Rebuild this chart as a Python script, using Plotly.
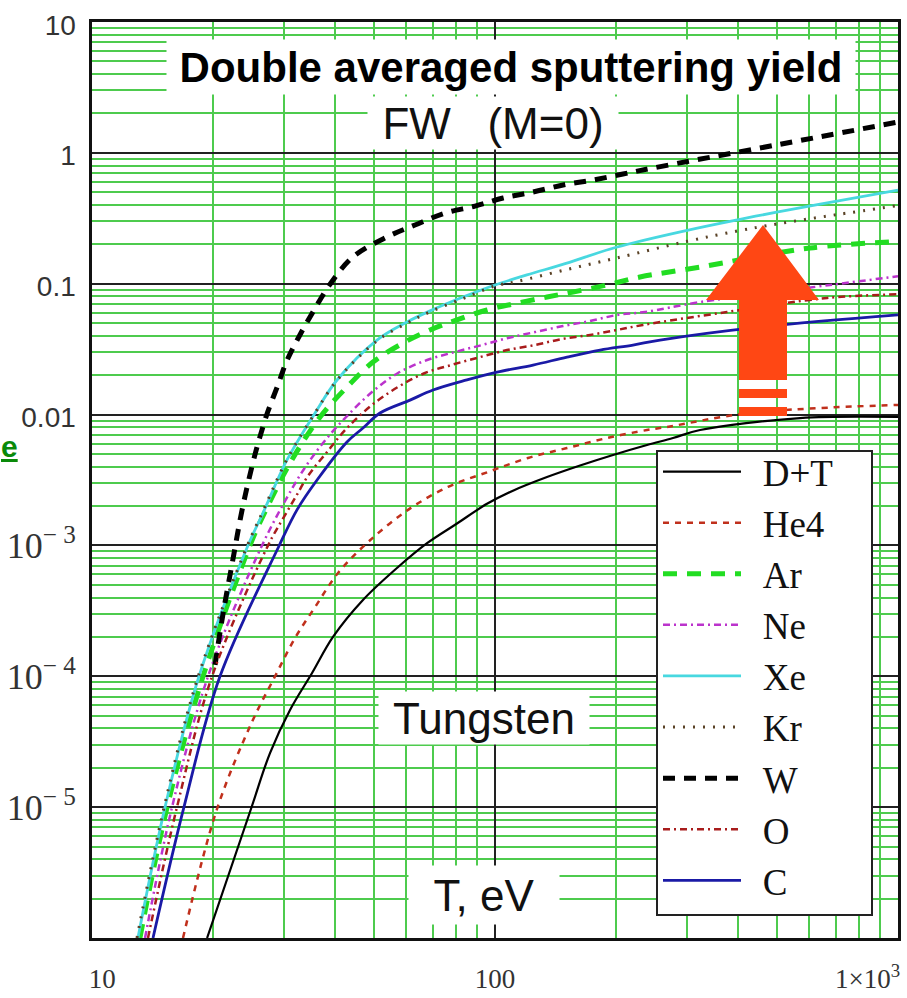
import plotly.graph_objects as go

# ---------------- data ----------------
T_DT = [19.3, 24.8, 27.65, 31.0, 35.16, 39.63, 47.03, 57.12, 67.83, 80.48, 95.53, 110.8, 134.6, 162.6, 196.3,
        238.3, 276.5, 322.7, 571.2, 1000]
Y_DT = [1.0e-6, 9.68e-6, 2.59e-5, 5.53e-5, 1.06e-4, 2.0e-4, 3.83e-4, 6.72e-4, 1.04e-3, 1.47e-3, 2.08e-3, 2.62e-3,
        3.33e-3, 4.08e-3, 4.91e-3, 5.85e-3, 6.62e-3, 7.62e-3, 9.41e-3, 9.6e-3]

T_HE4 = [16.82, 20.43, 24.94, 28.46, 31.9, 35.77, 40.78, 48.4, 60.84, 76.45, 96.07, 120.7, 150.9, 189.7, 238.3,
         267.2, 429.4, 1000]
Y_HE4 = [1.0e-6, 9.7e-6, 4.47e-5, 1.0e-4, 1.96e-4, 3.38e-4, 6.15e-4, 1.06e-3, 1.87e-3, 2.80e-3, 3.64e-3, 4.66e-3,
         5.55e-3, 6.62e-3, 7.62e-3, 8.04e-3, 1.028e-2, 1.185e-2]

T_AR = [13.15, 15.36, 18.86, 24.66, 26.57, 31.0, 36.81, 42.93, 49.8, 59.12, 69.0, 80.48, 95.53, 113.4, 134.6,
        156.2, 189.7, 229.0, 322.7, 604.8, 1000]
Y_AR = [1.0e-6, 1.0e-5, 1.0e-4, 1.0e-3, 1.68e-3, 4.26e-3, 9.58e-3, 1.624e-2, 2.52e-2, 3.52e-2, 4.43e-2, 5.30e-2,
        6.30e-2, 7.1e-2, 7.91e-2, 8.64e-2, 9.78e-2, 0.1125, 0.134, 0.1875, 0.210]

T_NE = [13.54, 15.80, 19.41, 26.42, 31.54, 34.36, 38.31, 43.17, 49.52, 57.45, 67.83, 79.57, 92.84, 107.7, 125.7,
        147.5, 172.2, 200.8, 235.6, 322.7, 678.2, 1000]
Y_NE = [1.0e-6, 1.0e-5, 1.0e-4, 1.0e-3, 2.80e-3, 4.26e-3, 6.62e-3, 9.92e-3, 1.487e-2, 2.078e-2, 2.612e-2,
        3.006e-2, 3.40e-2, 3.846e-2, 4.27e-2, 4.75e-2, 5.19e-2, 5.77e-2, 6.08e-2, 7.24e-2, 9.78e-2, 0.114]

T_XE = [13.0, 15.18, 18.43, 24.38, 26.57, 30.47, 35.77, 40.55, 50.95, 60.5, 69.0, 83.28, 100, 120, 150, 200, 300,
        400, 500, 700, 1000]
Y_XE = [1.0e-6, 1.0e-5, 1.0e-4, 1.0e-3, 1.77e-3, 4.50e-3, 1.028e-2, 1.837e-2, 3.71e-2, 5.10e-2, 6.2e-2, 7.91e-2,
        9.78e-2, 0.1167, 0.143, 0.190, 0.256, 0.308, 0.352, 0.426, 0.520]

T_KR = [12.93, 15.1, 18.35, 24.3, 26.5, 30.47, 35.77, 40.55, 50.95, 60.5, 69.0, 83.28, 100, 113.4, 150, 200, 300,
        400, 500, 700, 1000]
Y_KR = [1.0e-6, 1.0e-5, 1.0e-4, 1.0e-3, 1.8e-3, 4.55e-3, 1.03e-2, 1.83e-2, 3.66e-2, 5.0e-2, 6.1e-2, 7.7e-2,
        9.6e-2, 0.104, 0.128, 0.157, 0.211, 0.253, 0.286, 0.336, 0.396]

T_W = [20.2, 21.1, 22.4, 23.6, 25.1, 26.1, 27.3, 28.8, 30.5, 32.8, 35.8, 39.0, 44.4, 54.0, 63.3, 75.2, 89.2,
       104.7, 124.3, 147.5, 175.1, 207.8, 246.6, 500, 1000]
Y_W = [1.22e-4, 2.9e-4, 8.0e-4, 1.9e-3, 4.34e-3, 6.75e-3, 1.05e-2, 1.62e-2, 2.61e-2, 4.06e-2, 6.52e-2, 9.95e-2,
       0.160, 0.228, 0.281, 0.347, 0.392, 0.452, 0.502, 0.568, 0.620, 0.689, 0.766, 1.15, 1.72]

T_O = [13.77, 16.25, 19.86, 27.34, 29.62, 31.9, 34.36, 38.31, 42.93, 49.52, 57.45, 67.05, 78.21, 91.8, 107.1,
       125.7, 146.7, 172.2, 200.8, 232.9, 376.5, 666.6, 1000]
Y_O = [1.0e-6, 1.0e-5, 1.0e-4, 1.0e-3, 1.56e-3, 2.30e-3, 3.4e-3, 5.18e-3, 7.89e-3, 1.183e-2, 1.624e-2, 2.078e-2,
       2.40e-2, 2.75e-2, 3.11e-2, 3.40e-2, 3.78e-2, 4.06e-2, 4.43e-2, 4.84e-2, 6.08e-2, 7.78e-2, 8.3e-2]

T_C = [14.17, 16.91, 20.78, 29.11, 32.26, 36.18, 42.93, 47.03, 51.84, 61.54, 70.19, 85.2, 101.2, 124.3, 150.9,
       182.3, 220.0, 256.7, 429.4, 1000]
Y_C = [1.0e-6, 1.0e-5, 1.0e-4, 9.9e-4, 1.87e-3, 3.16e-3, 6.17e-3, 7.89e-3, 1.028e-2, 1.29e-2, 1.54e-2, 1.84e-2,
       2.11e-2, 2.39e-2, 2.75e-2, 3.11e-2, 3.40e-2, 3.71e-2, 4.58e-2, 5.77e-2]

SERIES_NAMES = ["D+T", "He4", "Ar", "Ne", "Xe", "Kr", "W", "O", "C"]
SERIES_T = [T_DT, T_HE4, T_AR, T_NE, T_XE, T_KR, T_W, T_O, T_C]
SERIES_Y = [Y_DT, Y_HE4, Y_AR, Y_NE, Y_XE, Y_KR, Y_W, Y_O, Y_C]

X_TICK_VALUES = [10, 100, 1000]
X_TICK_LABELS = ["10", "100", "1×10<sup>3</sup>"]
Y_TICK_VALUES = [10, 1, 0.1, 0.01, 1e-3, 1e-4, 1e-5]
Y_TICK_LABELS = ["10", "1", "0.1", "0.01", "10<sup>− 3</sup>", "10<sup>− 4</sup>", "10<sup>− 5</sup>"]

TITLE_TEXT = "Double averaged sputtering yield"
SUBTITLE_TEXT = "FW\u00a0\u00a0\u00a0(M=0)"
MATERIAL_TEXT = "Tungsten"
XLABEL_TEXT = "T, eV"

# ---------------- styles ----------------
STYLES = {
    "D+T": dict(color="#000000", width=2.2, dash="solid"),
    "He4": dict(color="#c0301c", width=2.5, dash="6px,6px"),
    "Ar":  dict(color="#22dd22", width=5, dash="14px,10px"),
    "Ne":  dict(color="#bb33cc", width=2.5, dash="7px,4px,2px,4px"),
    "Xe":  dict(color="#48d8e0", width=2.8, dash="solid"),
    "Kr":  dict(color="#5a4226", width=3, dash="2px,8px"),
    "W":   dict(color="#000000", width=5, dash="12px,9px"),
    "O":   dict(color="#a81c1c", width=2.5, dash="7px,4px,2px,4px"),
    "C":   dict(color="#1a1aa6", width=2.8, dash="solid"),
}

NB = "\u00a0"
fig = go.Figure()
for name, tx, ty in zip(SERIES_NAMES, SERIES_T, SERIES_Y):
    st = STYLES[name]
    fig.add_trace(go.Scatter(
        x=tx, y=ty, name=NB + "\u2009" + name, mode="lines",
        line=dict(color=st["color"], width=st["width"], dash=st["dash"], shape="spline", smoothing=1.0),
    ))

# plot-area geometry (pixels) used to place decorations in paper coords
L, R, TOP, BOT = 92, 898, 22, 938
W_PA, H_PA = R - L, BOT - TOP


def px(x):
    return (x - L) / W_PA


def py(y):
    return (BOT - y) / H_PA


x_ticktext = [NB * 3 + X_TICK_LABELS[0], X_TICK_LABELS[1], X_TICK_LABELS[2] + NB * 9]
y_ticktext = []
for lab in Y_TICK_LABELS:
    if "sup" in lab:
        y_ticktext.append(lab)
    else:
        y_ticktext.append('<span style="font-family:Liberation Sans;font-size:28px">' + lab + "</span>")

minor_x = [d * m for d in (10, 100) for m in range(2, 10)]
minor_y = [m * 10.0 ** e for e in range(-6, 1) for m in range(2, 10)]

GREEN = "#4ecb4e"
axis_common = dict(
    type="log", showgrid=True, gridcolor="#222222", gridwidth=2,
    showline=True, mirror=True, linecolor="#111111", linewidth=3,
    ticks="", zeroline=False, ticklabeloverflow="allow", automargin=False,
)

fig.update_layout(
    width=907, height=998,
    margin=dict(l=L, r=907 - R, t=TOP, b=998 - BOT, autoexpand=False),
    paper_bgcolor="white", plot_bgcolor="white",
    showlegend=True,
    xaxis=dict(**axis_common, range=[1, 3], tickvals=X_TICK_VALUES, ticktext=x_ticktext,
               tickfont=dict(family="Liberation Serif", size=27, color="#333333"),
               ticklabelstandoff=15,
               minor=dict(tickvals=minor_x, showgrid=True, gridcolor=GREEN, gridwidth=2, ticks="")),
    yaxis=dict(**axis_common, range=[-6, 1], tickvals=Y_TICK_VALUES, ticktext=y_ticktext,
               tickfont=dict(family="Liberation Serif", size=36, color="#333333"),
               ticklabelstandoff=6,
               minor=dict(tickvals=minor_y, showgrid=True, gridcolor=GREEN, gridwidth=2, ticks="")),
    legend=dict(
        x=px(658), y=py(441), xanchor="left", yanchor="top",
        bgcolor="rgba(0,0,0,0)", borderwidth=0,
        font=dict(family="Liberation Serif", size=37, color="#111111"),
        itemwidth=78, tracegroupgap=0,
    ),
)

# legend box
fig.add_shape(type="rect", xref="paper", yref="paper",
              x0=px(657), x1=px(872), y0=py(915), y1=py(451),
              fillcolor="white", line=dict(color="#222222", width=2), layer="above")

# orange arrow
ARROW = "#ff4714"
arrow_path = ("M {a},{b} L {a},{c} L {d},{c} L {e},{f} L {g},{c} L {h},{c} L {h},{b} Z").format(
    a=px(739), b=py(380), c=py(300), d=px(706), e=px(763), f=py(225), g=px(819), h=px(787))
fig.add_shape(type="path", xref="paper", yref="paper", path=arrow_path,
              fillcolor=ARROW, line=dict(color=ARROW, width=0), layer="above")
for y0, y1 in ((389, 398), (407, 416)):
    fig.add_shape(type="rect", xref="paper", yref="paper",
                  x0=px(739), x1=px(787), y0=py(y1), y1=py(y0),
                  fillcolor=ARROW, line=dict(color=ARROW, width=0), layer="above")


# text boxes
def box(text, cx, cy, w, h, size, bold=False, color="#111111"):
    fig.add_annotation(
        xref="paper", yref="paper", x=px(cx), y=py(cy), xanchor="center", yanchor="middle",
        text=("<b>" + text + "</b>") if bold else text, showarrow=False,
        font=dict(family="Liberation Sans", size=size, color=color),
        bgcolor="white", width=w, height=h, borderpad=0,
    )


box(TITLE_TEXT, 511, 67, 688, 54, 42, bold=True, color="#000000")
box(SUBTITLE_TEXT, 493, 123, 250, 52, 44)
box(MATERIAL_TEXT, 484, 718, 210, 52, 44)
box(XLABEL_TEXT, 484, 895, 150, 58, 44)

# green fragment at the left edge (kept fully inside the page)
fig.add_annotation(xref="paper", yref="paper", x=px(0), y=py(446), xanchor="left", yanchor="middle",
                   text="<b><u>e</u></b>", showarrow=False, borderpad=0,
                   font=dict(family="Liberation Sans", size=30, color="#0a8a0a"))

fig.write_html("out.html")
